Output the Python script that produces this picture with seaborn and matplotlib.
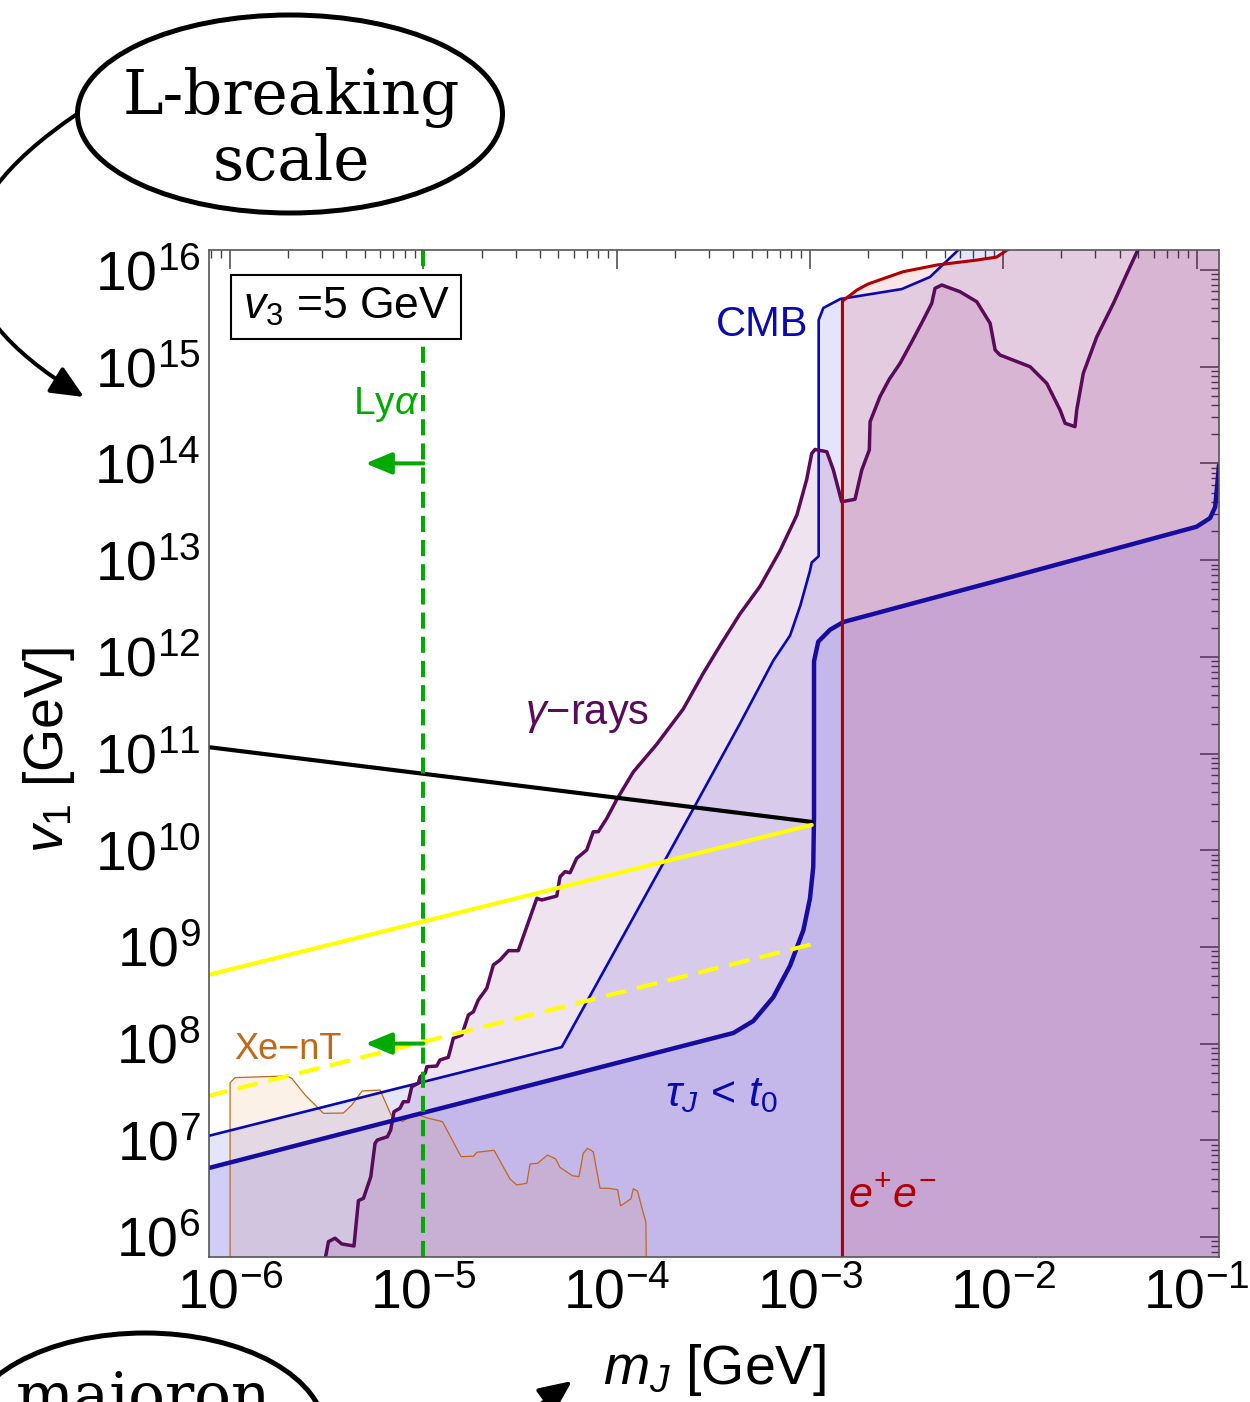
import numpy as np
import pandas as pd
import matplotlib
matplotlib.use("Agg")
import matplotlib.pyplot as plt
import seaborn as sns
from matplotlib.patches import Ellipse, FancyArrowPatch
from matplotlib.ticker import LogLocator, NullFormatter, LogFormatterSciNotation

# ------------------------------------------------------------------ data
# values are log10(m_J / GeV) and log10(v_1 / GeV)
tau_log_m = [-6.2, -3.396, -3.293, -3.190, -3.103, -3.034, -3.000, -2.983, -2.979,
             -2.979, -2.957, -2.896, -2.827, -2.017, -1.000, -0.930, -0.904, -0.894, -0.884]
tau_log_v = [6.667, 8.110, 8.234, 8.479, 8.806, 9.174, 9.501, 9.827, 10.359,
             11.954, 12.157, 12.280, 12.360, 12.794, 13.345, 13.435, 13.549, 13.756, 13.980]

cmb_log_m = [-6.2, -4.284, -3.879, -3.603, -3.362, -3.190, -3.103, -3.050, -3.000, -2.991,
             -2.955, -2.955, -2.931, -2.844, -2.525, -2.379, -2.206, -2.100]
cmb_log_v = [7.001, 7.964, 9.430, 10.430, 11.310, 11.960, 12.220, 12.530, 12.890, 12.975,
             13.040, 15.483, 15.607, 15.700, 15.803, 15.928, 16.258, 16.450]

gamma_log_m = [-5.509, -5.491, -5.457, -5.422, -5.359, -5.336, -5.310, -5.272, -5.250, -5.238,
               -5.186, -5.169, -5.152, -5.121, -5.104, -5.078, -5.060, -5.026, -5.017, -4.991,
               -4.982, -4.931, -4.914, -4.871, -4.845, -4.801, -4.767, -4.741, -4.716, -4.672,
               -4.638, -4.603, -4.560, -4.509, -4.465, -4.413, -4.388, -4.310, -4.293, -4.267,
               -4.241, -4.207, -4.155, -4.121, -4.095, -4.051, -4.000, -3.914, -3.793, -3.655,
               -3.552, -3.465, -3.362, -3.258, -3.155, -3.068, -3.017, -2.991, -2.974, -2.913,
               -2.879, -2.836, -2.767, -2.732, -2.693, -2.689, -2.638, -2.590, -2.534, -2.470,
               -2.414, -2.370, -2.353, -2.318, -2.224, -2.137, -2.068, -2.042, -2.017, -1.861,
               -1.775, -1.706, -1.680, -1.629, -1.620, -1.586, -1.516, -1.430, -1.344, -1.292, -1.241]
gamma_log_v = [5.762, 5.952, 5.987, 5.928, 5.907, 6.376, 6.400, 6.624, 6.969, 7.003,
               7.037, 7.107, 7.296, 7.331, 7.399, 7.399, 7.554, 7.590, 7.658, 7.693,
               7.761, 7.768, 7.831, 7.858, 8.055, 8.089, 8.296, 8.330, 8.451, 8.572,
               8.813, 8.865, 8.961, 8.961, 9.209, 9.503, 9.485, 9.526, 9.726, 9.778,
               9.767, 9.916, 10.002, 10.191, 10.191, 10.330, 10.522, 10.809, 11.095, 11.462,
               11.830, 12.117, 12.444, 12.730, 13.097, 13.465, 13.834, 14.102, 14.144, 14.121,
               13.932, 13.604, 13.629, 13.932, 14.139, 14.431, 14.690, 14.870, 15.035, 15.270,
               15.483, 15.656, 15.811, 15.845, 15.776, 15.672, 15.449, 15.173, 15.121, 15.000,
               14.828, 14.552, 14.415, 14.380, 14.552, 14.932, 15.310, 15.656, 16.034, 16.258, 16.460]

xent_log_m = [-6.0, -6.0, -5.974, -5.707, -5.681, -5.612, -5.569, -5.517, -5.414, -5.370,
              -5.317, -5.224, -5.167, -5.108, -5.049, -4.974, -4.901, -4.805, -4.741, -4.724,
              -4.634, -4.552, -4.517, -4.465, -4.448, -4.409, -4.358, -4.315, -4.293, -4.228,
              -4.195, -4.173, -4.151, -4.121, -4.086, -4.045, -3.995, -3.980, -3.926, -3.914,
              -3.892, -3.865, -3.849, -3.846]
xent_log_v = [5.70, 7.596, 7.648, 7.665, 7.641, 7.469, 7.383, 7.279, 7.282, 7.365,
              7.510, 7.520, 7.262, 7.193, 7.277, 7.228, 7.193, 6.831, 6.835, 6.876,
              6.897, 6.600, 6.538, 6.556, 6.755, 6.762, 6.848, 6.807, 6.719, 6.633,
              6.624, 6.866, 6.917, 6.882, 6.504, 6.504, 6.489, 6.321, 6.395, 6.499,
              6.474, 6.269, 6.155, 5.70]

ee_log_m = [-2.832, -2.832, -2.757, -2.700, -2.519, -2.343, -2.136, -2.034, -1.981, -1.930, -1.861]
ee_log_v = [5.70, 15.679, 15.793, 15.855, 15.982, 16.052, 16.103, 16.134, 16.206, 16.258, 16.360]

yellow_log_m = [-6.12, -2.991]
yellow_log_v = [8.707, 10.261]
yellow_dash_log_m = [-6.12, -2.985]
yellow_dash_log_v = [7.455, 9.030]
black_log_m = [-6.12, -2.989]
black_log_v = [11.068, 10.292]

lya_log_m = -5.0
lya_arrow_log_v = [14.0, 8.0]
lya_arrow_tip_log_m = -5.30

x_log_lim = (-6.109, -0.886)
y_log_lim = (5.793, 16.207)

# ------------------------------------------------------------------ style
sns.set_theme(style="white")
plt.rcParams["font.family"] = ["Liberation Sans", "DejaVu Sans"]
plt.rcParams["mathtext.fontset"] = "custom"
plt.rcParams["mathtext.rm"] = "Liberation Sans"
plt.rcParams["mathtext.it"] = "Liberation Sans:italic"
plt.rcParams["mathtext.bf"] = "Liberation Sans:bold"
plt.rcParams["mathtext.sf"] = "Liberation Sans"
plt.rcParams["text.color"] = "black"
plt.rcParams["axes.labelcolor"] = "black"
plt.rcParams["xtick.labelcolor"] = "black"
plt.rcParams["ytick.labelcolor"] = "black"

C_CMB = "#0a0ab0"
C_TAU = "#160ca0"
C_GAM = "#5a0a5a"
C_EE = "#b00000"
C_XE = "#c06818"
C_LYA = "#00aa00"

fig = plt.figure(figsize=(12.5, 14.02), dpi=100)
ax = fig.add_axes([209 / 1250, 145 / 1402, 1009.6 / 1250, 1007 / 1402])
ax.set_xscale("log")
ax.set_yscale("log")

p10 = lambda a: np.power(10.0, np.asarray(a, dtype=float))


def region(lm, lv, close_m, close_v, color, alpha, z):
    xs = list(lm) + list(close_m)
    ys = list(lv) + list(close_v)
    ax.fill(p10(xs), p10(ys), color=color, alpha=alpha, lw=0, zorder=z)


def curve(lm, lv, **kw):
    df = pd.DataFrame({"m": p10(lm), "v": p10(lv)})
    sns.lineplot(data=df, x="m", y="v", sort=False, estimator=None, ax=ax, legend=False, **kw)


# fills
region(cmb_log_m, cmb_log_v, [-0.5, -0.5, -6.2], [16.45, 5.0, 5.0], (0.0, 0.0, 0.82), 0.106, 1.0)
region(gamma_log_m, gamma_log_v, [-0.5, -0.5, -5.509], [16.46, 5.0, 5.0], (0.43, 0.0, 0.47), 0.11, 1.1)
region(tau_log_m, tau_log_v, [-0.5, -0.5, -6.2], [14.2, 5.0, 5.0], (0.24, 0.16, 0.90), 0.117, 1.2)
region(ee_log_m, ee_log_v, [-0.5, -0.5], [16.36, 5.0], (0.90, 0.0, 0.0), 0.10, 1.3)
region(xent_log_m, xent_log_v, [], [], (0.90, 0.47, 0.08), 0.10, 1.4)

# boundary lines
curve(xent_log_m, xent_log_v, color=C_XE, lw=0.9, zorder=3)
curve(cmb_log_m, cmb_log_v, color=C_CMB, lw=1.9, zorder=4)
curve(gamma_log_m, gamma_log_v, color=C_GAM, lw=2.5, zorder=4)
curve(tau_log_m, tau_log_v, color=C_TAU, lw=3.2, zorder=5)
curve(ee_log_m, ee_log_v, color=C_EE, lw=2.2, zorder=5)
curve(black_log_m, black_log_v, color="black", lw=3.0, zorder=6)
curve(yellow_log_m, yellow_log_v, color="#ffff00", lw=3.0, zorder=6)
curve(yellow_dash_log_m, yellow_dash_log_v, color="#ffff00", lw=3.0, zorder=6,
      linestyle=(0, (5, 2.6)))

# Lyman-alpha line and arrows
ax.plot([10 ** lya_log_m] * 2, [10 ** y_log_lim[0], 10 ** 16.28], color=C_LYA, lw=2.9,
        linestyle=(0, (4, 2)), zorder=7, clip_on=False)
for lv in lya_arrow_log_v:
    ax.annotate("", xy=(10 ** lya_arrow_tip_log_m, 10 ** lv), xytext=(10 ** lya_log_m, 10 ** lv),
                arrowprops=dict(arrowstyle="-|>,head_length=0.8,head_width=0.33", color=C_LYA,
                                lw=2.9, mutation_scale=20, shrinkA=0, shrinkB=0), zorder=7)

# labels inside the plot
ax.text(10 ** -5.193, 10 ** 14.614, r"Ly$\alpha$", color=C_LYA, fontsize=28, ha="center", va="center", zorder=8)
ax.text(10 ** -3.248, 10 ** 15.431, "CMB", color=C_CMB, fontsize=30, ha="center", va="center", zorder=8)
ax.text(10 ** -4.153, 10 ** 11.398, "$\\gamma$\u2212rays", color=C_GAM, fontsize=30, ha="center", va="center", zorder=8)
ax.text(10 ** -3.455, 10 ** 7.469, r"$\tau_J\,<\,t_0$", color=C_CMB, fontsize=31, ha="center", va="center", zorder=8)
ax.text(10 ** -2.575, 10 ** 6.414, r"$\mathit{e}^{+}\mathit{e}^{-}$", color=C_EE, fontsize=31, ha="center", va="center", zorder=8)
ax.text(10 ** -5.700, 10 ** 7.934, "Xe\u2212nT", color=C_XE, fontsize=26, ha="center", va="center", zorder=8)
ax.text(0.1358, 0.9434, r"$v_3$ =5 GeV", transform=ax.transAxes, fontsize=32, ha="center", va="center",
        zorder=9, bbox=dict(boxstyle="square,pad=0.25", fc="white", ec="black", lw=1.5))

# axes
ax.set_xlim(10 ** x_log_lim[0], 10 ** x_log_lim[1])
ax.set_ylim(10 ** y_log_lim[0], 10 ** y_log_lim[1])
for axis in (ax.xaxis, ax.yaxis):
    axis.set_major_locator(LogLocator(base=10, numticks=30))
    axis.set_minor_locator(LogLocator(base=10, subs=np.arange(2, 10), numticks=30))
    axis.set_major_formatter(LogFormatterSciNotation())
    axis.set_minor_formatter(NullFormatter())
ax.tick_params(which="both", direction="in", top=True, right=True, color="#444444",
               labelsize=40, labelcolor="black")
ax.tick_params(which="major", length=14, width=1.1)
ax.tick_params(which="minor", length=5.8, width=1.0)
ax.tick_params(axis="y", pad=6)
ax.tick_params(axis="x", pad=8)
for s in ax.spines.values():
    s.set_color("#555555")
    s.set_linewidth(1.2)
    s.set_zorder(10)
ax.set_xlabel(r"$m_J$ [GeV]", fontsize=40, color="black")
ax.set_ylabel(r"$v_1$ [GeV]", fontsize=40, color="black")
ax.xaxis.set_label_coords(0.5007, -0.1122)
ax.yaxis.set_label_coords(-0.158, 0.5035)
ax.xaxis.label.set_va("center")
ax.yaxis.label.set_va("center")

# ------------------------------------------------------------------ annotations outside the plot
ov = fig.add_axes([0, 0, 1, 1])
ov.set_xlim(0, 1250)
ov.set_ylim(1402, 0)
ov.axis("off")
ov.add_patch(Ellipse((290, 114), 425, 198, fc="none", ec="black", lw=3.6))
ov.text(291, 98, "L-breaking", family="DejaVu Serif", fontsize=44, ha="center", va="center", color="black")
ov.text(291, 163, "scale", family="DejaVu Serif", fontsize=44, ha="center", va="center", color="black")
ov.add_patch(FancyArrowPatch((77, 114), (84, 397), connectionstyle="arc3,rad=0.78",
                             arrowstyle="-|>,head_length=1.0,head_width=0.45", mutation_scale=20,
                             color="black", lw=2.9, shrinkA=0, shrinkB=0))
ov.add_patch(Ellipse((145, 1433), 360, 200, fc="none", ec="black", lw=3.6))
ov.text(143, 1416, "majoron", family="DejaVu Serif", fontsize=44, ha="center", va="baseline", color="black")
ov.add_patch(FancyArrowPatch((530, 1412), (572, 1381),
                             arrowstyle="-|>,head_length=1.0,head_width=0.45", mutation_scale=20,
                             color="black", lw=2.9, shrinkA=0, shrinkB=0))

fig.savefig("out.png", dpi=100)
